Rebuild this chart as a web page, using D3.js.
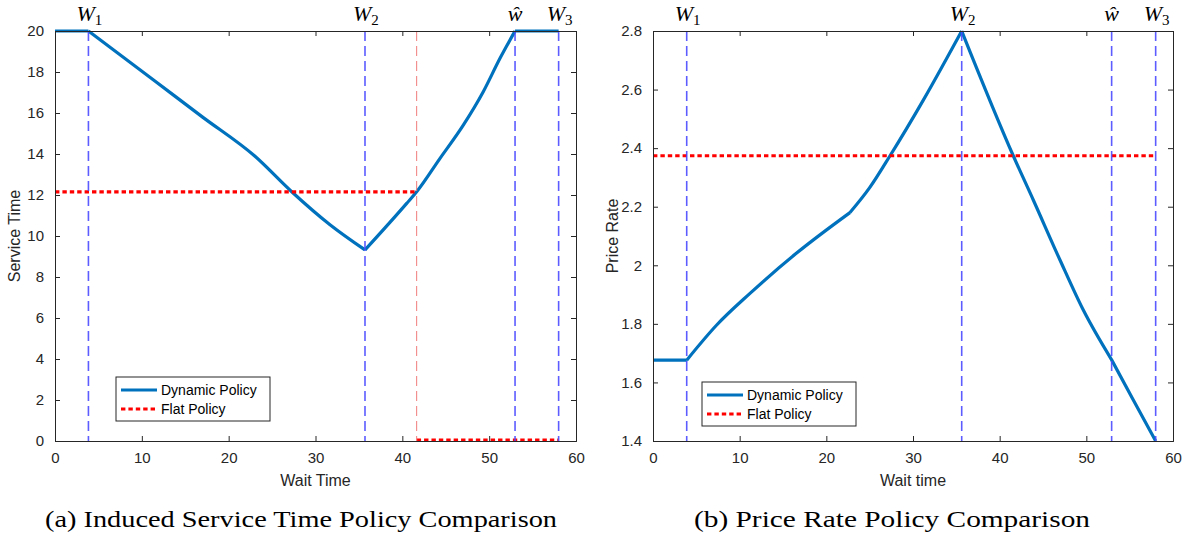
<!DOCTYPE html>
<html><head><meta charset="utf-8">
<script src="https://cdn.jsdelivr.net/npm/d3@7"></script>
<style>body{margin:0;background:#fff}svg{display:block}</style>
</head><body><svg id="c" width="1185" height="539"></svg>
<script>
// ---- data ----
const serviceDynX = [0, 3.85, 11.5, 17.0, 23.0, 27.26, 31.67, 35.7, 40.5, 41.65, 44.34, 47.02, 49.32, 51.25, 52.98, 58];
const serviceDynY = [20, 20, 17.56, 15.8, 13.9, 12.16, 10.55, 9.32, 11.59, 12.16, 13.79, 15.41, 17.04, 18.67, 20, 20];
const serviceFlatX = [0, 41.65, null, 41.65, 58];
const serviceFlatY = [12.15, 12.15, null, 0.05, 0.05];
const priceDynX = [0, 3.89, 7.35, 11.19, 16.5, 22.73, 25.0, 27.35, 31.19, 35.62, 41.57, 43.88, 46.96, 49.65, 52.92, 55.42, 58];
const priceDynY = [1.676, 1.676, 1.796, 1.904, 2.04, 2.18, 2.265, 2.374, 2.564, 2.8, 2.374, 2.223, 2.018, 1.847, 1.677, 1.54, 1.4];
const priceFlatX = [0, 57.8];
const priceFlatY = [2.374, 2.374];
const markNames = ["W1", "W2", "what", "W3"];
const serviceMarks = [3.85, 35.7, 52.98, 58.0];
const priceMarks = [3.89, 35.62, 52.92, 58.0];
const serviceKinks = [];
const priceKinks = [22.73];
const serviceCut = 41.65;
const xTicks = [0, 10, 20, 30, 40, 50, 60];
const serviceTicks = [0, 2, 4, 6, 8, 10, 12, 14, 16, 18, 20];
const priceTicks = [1.4, 1.6, 1.8, 2.0, 2.2, 2.4, 2.6, 2.8];
const legendLabels = ["Dynamic Policy", "Flat Policy"];
const captions = ["(a) Induced Service Time Policy Comparison", "(b) Price Rate Policy Comparison"];

const svg = d3.select("#c");
const AX = "#262626";
const FONT = "'Liberation Sans', Arial, sans-serif";

function pieces(xs, ys, breaks) {
  const pts = d3.zip(xs, ys);
  const out = [];
  let cur = [];
  pts.forEach(p => {
    cur.push(p);
    if (breaks.some(b => Math.abs(b - p[0]) < 1e-9) && cur.length > 1) { out.push(cur); cur = [p]; }
  });
  if (cur.length > 1) out.push(cur);
  return out;
}

function panel(o) {
  const x = d3.scaleLinear().domain([0, 60]).range([o.left, o.right]);
  const y = d3.scaleLinear().domain(o.ydom).range([441, 31]);
  const g = svg.append("g");
  const smooth = d3.line().x(d => x(d[0])).y(d => y(d[1])).curve(d3.curveMonotoneX);
  const dynPath = pieces(o.dynX, o.dynY, o.marks.concat(o.kinks)).map(p => smooth(p)).join("");
  g.append("path").attr("d", dynPath)
    .attr("fill", "none").attr("stroke", "#0072BD").attr("stroke-width", 3.2).attr("stroke-linejoin", "round");
  const flat = d3.line().defined(d => d[0] != null).x(d => x(d[0])).y(d => y(d[1]));
  g.append("path").datum(d3.zip(o.flatX, o.flatY)).attr("d", flat)
    .attr("fill", "none").attr("stroke", "#ff0000").attr("stroke-width", 3.2).attr("stroke-dasharray", "4.4,3");
  if (o.cut != null) {
    g.append("line").attr("x1", x(o.cut)).attr("x2", x(o.cut)).attr("y1", 31).attr("y2", 441)
      .attr("stroke", "#f07c7c").attr("stroke-width", 1).attr("stroke-dasharray", "10,5");
  }
  o.marks.forEach(m => {
    g.append("line").attr("x1", x(m)).attr("x2", x(m)).attr("y1", 31).attr("y2", 441)
      .attr("stroke", "#4a4aff").attr("stroke-opacity", 0.9).attr("stroke-width", 1.6).attr("stroke-dasharray", "10,5");
  });
  const tl = 5;
  const gb = g.append("g").attr("transform", "translate(0,441)").call(d3.axisBottom(x).tickValues(xTicks).tickSize(-tl).tickPadding(11));
  const gt = g.append("g").attr("transform", "translate(0,31)").call(d3.axisTop(x).tickValues(xTicks).tickSize(-tl).tickFormat(""));
  const gl = g.append("g").attr("transform", `translate(${o.left},0)`).call(d3.axisLeft(y).tickValues(o.yticks).tickSize(-tl).tickPadding(11).tickFormat(o.yfmt));
  const gr = g.append("g").attr("transform", `translate(${o.right},0)`).call(d3.axisRight(y).tickValues(o.yticks).tickSize(-tl).tickFormat(""));
  [gb, gt, gl, gr].forEach(a => {
    a.select(".domain").attr("stroke", AX).attr("stroke-width", 1);
    a.selectAll(".tick line").attr("stroke", AX).attr("stroke-width", 1);
    a.selectAll("text").attr("fill", AX).style("font-family", FONT).style("font-size", "15px");
  });
  g.append("text").attr("x", (o.left + o.right) / 2).attr("y", 486).attr("text-anchor", "middle")
    .attr("fill", AX).style("font-family", FONT).style("font-size", "16px").text(o.xlabel);
  g.append("text").attr("transform", `translate(${o.left - 35},236) rotate(-90)`).attr("text-anchor", "middle")
    .attr("fill", AX).style("font-family", FONT).style("font-size", "16px").text(o.ylabel);
  o.marks.forEach((m, i) => {
    const name = markNames[i];
    if (name === "what") {
      g.append("text").attr("x", x(m)).attr("y", 21).attr("text-anchor", "middle")
        .style("font-family", "'Liberation Serif', serif").style("font-style", "italic").style("font-size", "22px")
        .attr("fill", "#000").text("\u0175");
    } else {
      const t = g.append("text").attr("x", x(m) - 12).attr("y", 21)
        .style("font-family", "'Liberation Serif', serif").style("font-size", "22px").attr("fill", "#000");
      t.append("tspan").style("font-style", "italic").text("W");
      t.append("tspan").attr("dy", 4).style("font-size", "15px").text(name.slice(1));
    }
  });
  const L = o.legend;
  g.append("rect").attr("x", L.x).attr("y", L.y).attr("width", L.w).attr("height", L.h)
    .attr("fill", "#fff").attr("stroke", AX).attr("stroke-width", 1);
  legendLabels.forEach((lab, i) => {
    const yy = L.y + 13 + i * 19;
    g.append("line").attr("x1", L.x + 5).attr("x2", L.x + 41).attr("y1", yy).attr("y2", yy)
      .attr("stroke", i === 0 ? "#0072BD" : "#ff0000").attr("stroke-width", 3.2)
      .attr("stroke-dasharray", i === 0 ? null : "4.4,3");
    g.append("text").attr("x", L.x + 45).attr("y", yy + 5).attr("fill", "#000")
      .style("font-family", FONT).style("font-size", "14px").text(lab);
  });
  svg.append("text").attr("x", o.capX).attr("y", 527).attr("text-anchor", "middle")
    .style("font-family", "'Liberation Serif', 'DejaVu Serif', serif").style("font-size", "24px")
    .attr("textLength", o.capW).attr("lengthAdjust", "spacingAndGlyphs").attr("fill", "#000").text(o.caption);
}

panel({left: 55, right: 576, ydom: [0, 20], dynX: serviceDynX, dynY: serviceDynY, kinks: serviceKinks,
  flatX: serviceFlatX, flatY: serviceFlatY, marks: serviceMarks, cut: serviceCut,
  yticks: serviceTicks, yfmt: d3.format("d"), xlabel: "Wait Time", ylabel: "Service Time",
  legend: {x: 116, y: 377, w: 154, h: 44}, caption: captions[0], capX: 301, capW: 512});
panel({left: 653, right: 1173, ydom: [1.4, 2.8], dynX: priceDynX, dynY: priceDynY, kinks: priceKinks,
  flatX: priceFlatX, flatY: priceFlatY, marks: priceMarks, cut: null,
  yticks: priceTicks, yfmt: d => d3.format("")(+d.toFixed(1)), xlabel: "Wait time", ylabel: "Price Rate",
  legend: {x: 702, y: 382, w: 154, h: 44}, caption: captions[1], capX: 892, capW: 396});
</script></body></html>
